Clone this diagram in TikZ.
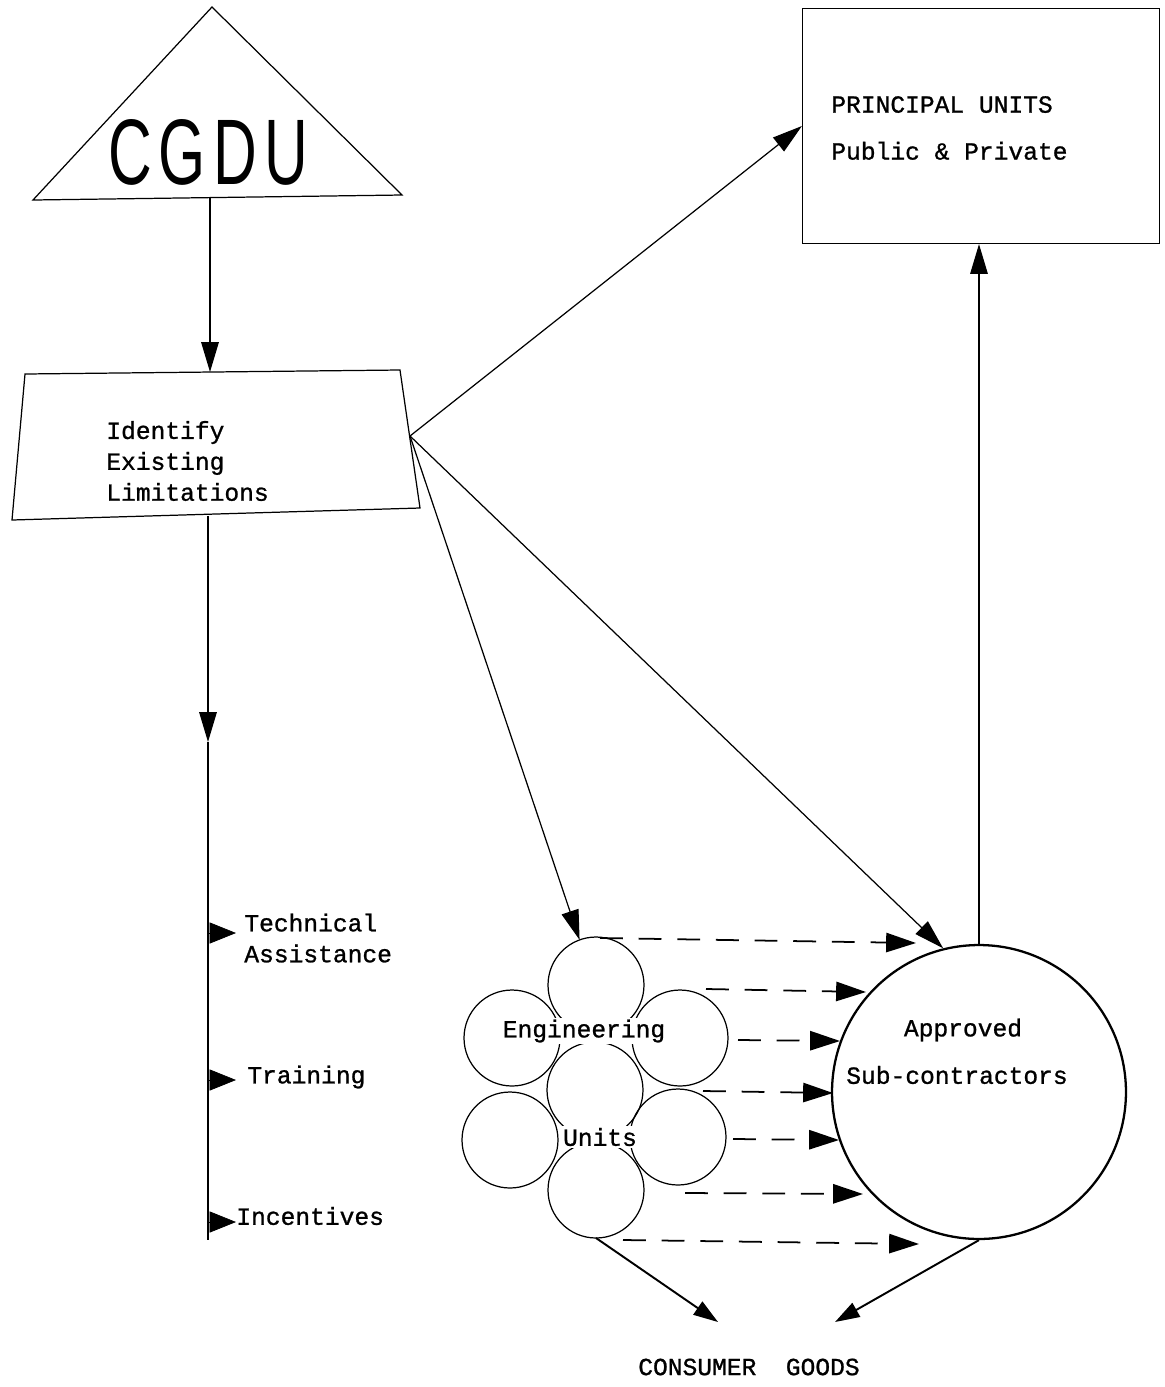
\documentclass[tikz,border=0pt]{standalone}
\usepackage{fontspec}
\newfontfamily\tw{Liberation Mono}[FakeBold=1]
\newfontfamily\cgdufont{Liberation Sans}[LetterSpace=12]
\usetikzlibrary{arrows.meta}
\begin{document}
\begin{tikzpicture}[x=0.02cm,y=-0.02cm,
  ln/.style={line width=0.7pt},
  arr/.style={ln,-{Triangle[length=17pt,width=10pt]}},
  barr/.style={line width=1.1pt,-{Triangle[length=14pt,width=9pt]}},
  darr/.style={line width=1pt,dash pattern=on 13pt off 9pt,-{Triangle[length=17pt,width=11pt]}},
  sidearr/.style={-{Triangle[length=15pt,width=12pt]}},
  lab/.style={font=\tw\fontsize{14}{17.6}\selectfont, inner sep=0pt, align=left},
  labwide/.style={font=\tw\fontsize{14}{26.7}\selectfont, inner sep=0pt, align=left},
  blob/.style={circle, draw, line width=0.7pt, minimum size=1.92cm, inner sep=0pt, outer sep=0pt}
]
\useasboundingbox (0,0) rectangle (1165,1387);

% CGDU triangle
\draw[ln] (212,7) -- (402,195) -- (33,200) -- cycle;
\node[font=\cgdufont\fontsize{53}{53}\selectfont, xscale=0.65, inner sep=0pt] (cgdu) at (208,152) {CGDU};
\coordinate (cgduB) at (210,197);

% Identify trapezoid
\draw[ln] (25,374) -- (400,370) -- (420,508) -- (12,520) -- cycle;
\coordinate (trT) at (210,372);
\coordinate (trB) at (208,516);
\coordinate (trR) at (410,436);
\node[lab, anchor=west] (idl) at (106,461) {Identify\\Existing\\Limitations};

% Principal units box
\node[draw, ln, minimum width=7.14cm, minimum height=4.7cm, inner sep=0pt] (pu) at (981,126) {};
\node[labwide, anchor=west] (put) at (831,128) {PRINCIPAL UNITS\\Public \& Private};

% Approved sub-contractors circle
\node[circle, draw, line width=1.3pt, minimum size=5.88cm, inner sep=0pt] (ap) at (979,1092) {};
\node[lab] (apt1) at (963,1030) {Approved};
\node[lab] (apt2) at (957,1075) {Sub-contractors};

% Engineering units cluster
\node[blob] (e4) at (595,1090) {};
\node[blob] (e1) at (596,985) {};
\node[blob] (e2) at (512,1038) {};
\node[blob] (e3) at (680,1038) {};
\node[blob] (e5) at (510,1140) {};
\node[blob] (e6) at (678,1137) {};
\node[blob] (e7) at (596,1190) {};
\node[lab, fill=white, inner sep=1pt] (eng) at (584,1031) {Engineering};
\node[lab, fill=white, inner sep=1pt] (uni) at (600,1137) {Units};

% Consumer goods
\node[lab] (cg) at (749,1367) {CONSUMER\hspace{1.2em}GOODS};
\coordinate (cgL) at (718,1322);
\coordinate (cgR) at (835,1322);

% main connectors
\draw[arr] (cgduB) -- (trT);
\draw[arr] (trR) -- (pu.west);
\draw[arr] (trR) -- (e1.110);
\draw[arr] (trR) -- (ap.104);
\draw[arr] (ap.north) -- (ap.north |- pu.south);

% vertical line with items
\coordinate (vA) at (208,742);
\coordinate (vE) at (208,1240);
\draw[arr] (trB) -- (vA);
\draw[ln] (vA) -- (vE);
\coordinate (s1) at (208,933); \coordinate (t1) at (236,933);
\coordinate (s2) at (208,1080); \coordinate (t2) at (236,1080);
\coordinate (s3) at (208,1222); \coordinate (t3) at (236,1222);
\draw[sidearr] (s1) -- (t1);
\draw[sidearr] (s2) -- (t2);
\draw[sidearr] (s3) -- (t3);
\node[lab, anchor=west] (ta) at (244,938) {Technical\\Assistance};
\node[lab, anchor=west] (tr) at (247,1077) {Training};
\node[lab, anchor=west] (inc) at (236,1216) {Incentives};

% dashed arrows
\coordinate (d1a) at (600,938);  \coordinate (d1b) at (916,943);
\coordinate (d2a) at (706,989);  \coordinate (d2b) at (866,992);
\coordinate (d3a) at (738,1040); \coordinate (d3b) at (840,1041);
\coordinate (d4a) at (703,1091); \coordinate (d4b) at (833,1093);
\coordinate (d5a) at (733,1139); \coordinate (d5b) at (839,1140);
\coordinate (d6a) at (685,1193); \coordinate (d6b) at (863,1194);
\coordinate (d7a) at (623,1240); \coordinate (d7b) at (919,1244);
\foreach \i in {1,...,7} \draw[darr] (d\i a) -- (d\i b);

% to consumer goods
\draw[barr] (e7.south) -- (cgL);
\draw[barr] (ap.south) -- (cgR);
\end{tikzpicture}
\end{document}
